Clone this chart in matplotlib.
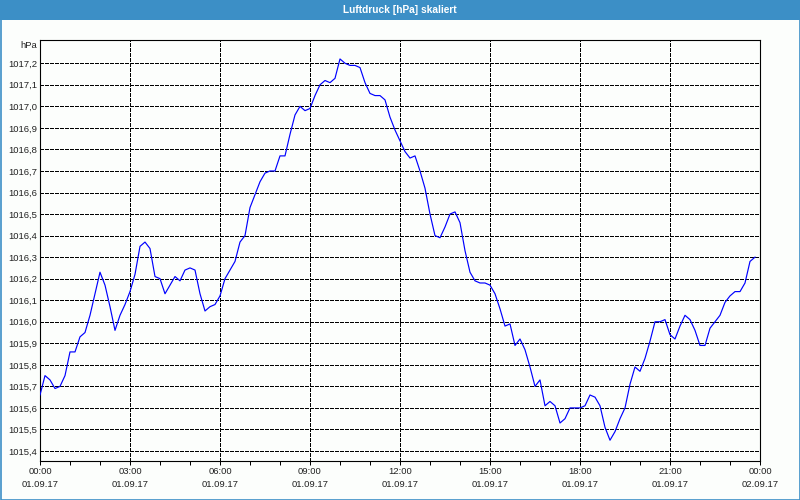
import matplotlib
matplotlib.use("Agg")
import matplotlib.pyplot as plt
import matplotlib.dates as mdates
from matplotlib.patches import Rectangle
from matplotlib.ticker import FuncFormatter
import pandas as pd

title = "Luftdruck [hPa] skaliert"
unit = "hPa"
start = "2017-09-01 00:00"
end = "2017-09-02 00:00"

values = [
    1015.66, 1015.75, 1015.73, 1015.69, 1015.70, 1015.75,
    1015.86, 1015.86, 1015.93, 1015.95, 1016.03, 1016.13,
    1016.23, 1016.17, 1016.07, 1015.96, 1016.03, 1016.08,
    1016.14, 1016.22, 1016.35, 1016.37, 1016.34, 1016.21,
    1016.20, 1016.13, 1016.17, 1016.21, 1016.19, 1016.24,
    1016.25, 1016.24, 1016.13, 1016.05, 1016.07, 1016.08,
    1016.12, 1016.20, 1016.24, 1016.28, 1016.37, 1016.40,
    1016.53, 1016.59, 1016.65, 1016.69, 1016.70, 1016.70,
    1016.77, 1016.77, 1016.87, 1016.96, 1017.00, 1016.98,
    1016.99, 1017.05, 1017.10, 1017.12, 1017.11, 1017.13,
    1017.22, 1017.20, 1017.19, 1017.19, 1017.18, 1017.11,
    1017.06, 1017.05, 1017.05, 1017.03, 1016.95, 1016.89,
    1016.84, 1016.79, 1016.76, 1016.77, 1016.70, 1016.62,
    1016.50, 1016.40, 1016.39, 1016.44, 1016.50, 1016.51,
    1016.46, 1016.33, 1016.23, 1016.19, 1016.18, 1016.18,
    1016.17, 1016.13, 1016.06, 1015.98, 1015.99, 1015.89,
    1015.92, 1015.87, 1015.79, 1015.70, 1015.73, 1015.61,
    1015.63, 1015.61, 1015.53, 1015.55, 1015.60, 1015.60,
    1015.60, 1015.61, 1015.66, 1015.65, 1015.61, 1015.51,
    1015.45, 1015.49, 1015.55, 1015.60, 1015.71, 1015.79,
    1015.77, 1015.83, 1015.91, 1016.00, 1016.00, 1016.01,
    1015.94, 1015.92, 1015.98, 1016.03, 1016.01, 1015.96,
    1015.89, 1015.89, 1015.97, 1016.00, 1016.03, 1016.09,
    1016.12, 1016.14, 1016.14, 1016.18, 1016.28, 1016.30,
]
times = pd.date_range(start, periods=len(values), freq="10min")

ytick_values = [1015.4, 1015.5, 1015.6, 1015.7, 1015.8, 1015.9, 1016.0,
                1016.1, 1016.2, 1016.3, 1016.4, 1016.5, 1016.6, 1016.7,
                1016.8, 1016.9, 1017.0, 1017.1, 1017.2]

FONT = "Liberation Sans"
FS = 6.8
BLUE_BAR = "#3c8fc6"
BG = "#fcfefc"

fig = plt.figure(figsize=(8, 5), dpi=100, facecolor=BG)
W, H = 800, 500

# title bar and outer frame
fig.patches.append(Rectangle((0, 1 - 20 / H), 1, 20 / H, transform=fig.transFigure,
                             facecolor=BLUE_BAR, edgecolor="none", zorder=0))
fig.patches.append(Rectangle((0.5 / W, 0.5 / H), 1 - 1 / W, 1 - 1 / H, transform=fig.transFigure,
                             facecolor="none", edgecolor=BLUE_BAR, lw=1.2, zorder=5))
fig.text(0.5, 1 - 10 / H, title, color="white", fontweight="bold", fontsize=7.3,
         family=FONT, ha="center", va="center")

ax = fig.add_axes([40 / W, (H - 460.7) / H, 720 / W, (460.7 - 40) / H])
ax.set_facecolor(BG)
ax.plot(times, values, color="#0000ff", lw=0.85, zorder=3)

ax.set_ylim(1015.355, 1017.308)
ax.set_xlim(pd.Timestamp(start), pd.Timestamp(end))
ax.set_yticks(ytick_values)
ax.yaxis.set_major_formatter(FuncFormatter(lambda v, p: f"{v:.1f}".replace(".", ",")))

ax.xaxis.set_major_locator(mdates.HourLocator(byhour=range(0, 24, 3)))
ax.xaxis.set_minor_locator(mdates.HourLocator())
ax.xaxis.set_major_formatter(mdates.DateFormatter("%H:%M\n%d.%m.%y"))

ax.grid(True, which="major", color="black", lw=0.72, linestyle=(0, (3, 2)),
        antialiased=False)
ax.tick_params(axis="y", length=0, pad=2.2, labelsize=FS, labelcolor="#222222")
ax.tick_params(axis="x", which="both", length=3, width=0.72, direction="out", pad=1.5,
               labelsize=FS, labelcolor="#222222")
for lab in ax.get_xticklabels() + ax.get_yticklabels():
    lab.set_family(FONT)
for lab in ax.get_xticklabels():
    lab.set_linespacing(1.55)
for s in ax.spines.values():
    s.set_color("black")
    s.set_linewidth(0.8)

fig.text(37 / W, 1 - 45 / H, unit, ha="right", va="center", fontsize=FS, family=FONT,
         color="#222222")

fig.savefig("out.png", dpi=100, facecolor=BG)
